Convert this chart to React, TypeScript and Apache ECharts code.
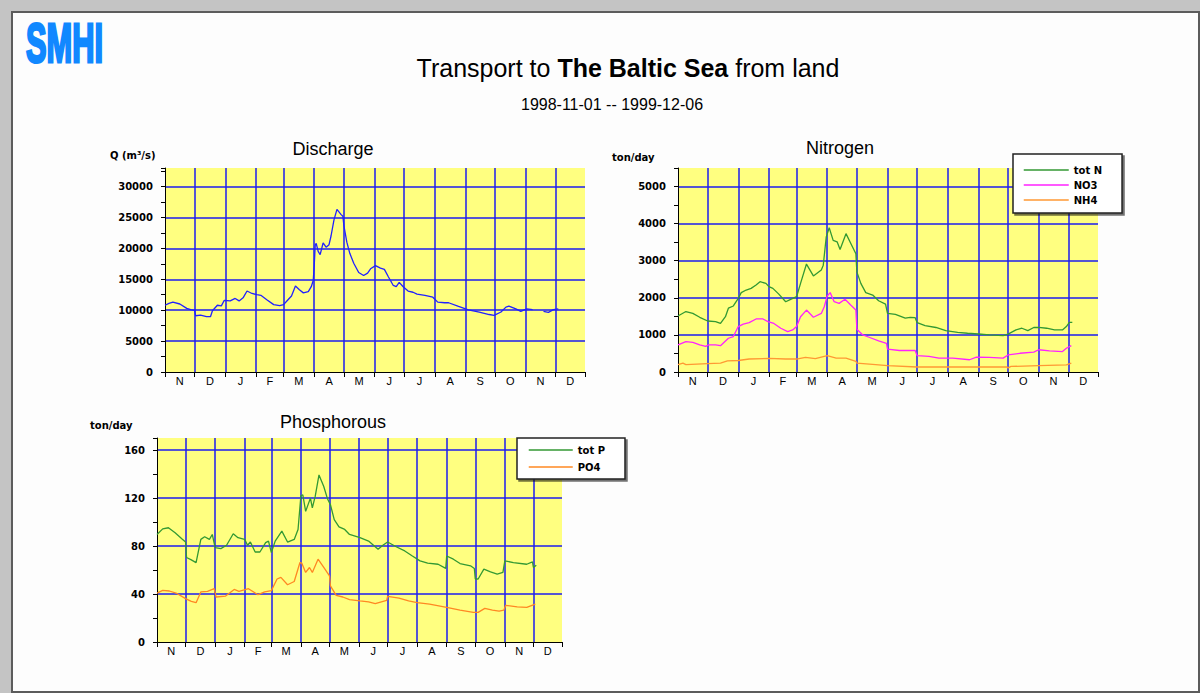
import React, { useEffect, useRef } from 'react';
import * as echarts from 'echarts';

// ---- calendar (day 0 = 1998-11-01, last = 1999-12-31) ----
const monthStarts = [0, 30, 61, 92, 120, 151, 181, 212, 242, 273, 304, 334, 365, 395, 425];
const monthLabels = ['N', 'D', 'J', 'F', 'M', 'A', 'M', 'J', 'J', 'A', 'S', 'O', 'N', 'D'];
const monthMids = monthLabels.map((_, i) => (monthStarts[i] + monthStarts[i + 1]) / 2);

// ---- Discharge Q (m3/s) ----
const qDays = [0, 4, 8, 15, 22, 26, 30, 31, 36, 42, 46, 48, 53, 57, 60, 66, 71, 75, 79, 83, 88, 93, 97, 103, 110, 116, 120, 124, 128, 132, 136, 140, 145, 148, 150, 151, 152, 153, 155, 157, 160, 163, 166, 168, 171, 174, 178, 180, 181, 184, 187, 191, 196, 201, 205, 208, 213, 218, 222, 226, 231, 234, 237, 241, 246, 251, 255, 263, 271, 276, 283, 287, 297, 307, 318, 328, 333, 340, 345, 348, 355, 360, 366, 372, 376, 383, 388, 393, 398];
const qValues = [10800, 11100, 11300, 11000, 10300, 10100, 9950, 9100, 9200, 8950, 8950, 9900, 10800, 10700, 11600, 11500, 11900, 11500, 12000, 13100, 12700, 12500, 12400, 11700, 10900, 10750, 10900, 11600, 12300, 13900, 13300, 12800, 13000, 13800, 14800, 17200, 20500, 20800, 19500, 19000, 20900, 20200, 20600, 22000, 24600, 26300, 25500, 25200, 23700, 21000, 19200, 17600, 16100, 15600, 16000, 16700, 17200, 16800, 16600, 15400, 14000, 13800, 14500, 13800, 13100, 12900, 12600, 12400, 12100, 11300, 11200, 11200, 10600, 10050, 9700, 9300, 9150, 9700, 10500, 10650, 10200, 9800, 10200, 10100, null, 9800, 9650, 10100, 10200];

// ---- Nitrogen (ton/day) ----
const totNDays = [0, 8, 15, 22, 30, 38, 43, 48, 51, 56, 61, 64, 69, 74, 79, 83, 89, 92, 96, 102, 109, 114, 120, 124, 130, 137, 145, 147, 150, 153, 157, 161, 164, 170, 175, 180, 181, 185, 190, 197, 203, 210, 212, 220, 230, 235, 240, 242, 250, 261, 271, 283, 293, 304, 315, 329, 334, 342, 348, 354, 360, 365, 373, 381, 389, 393, 396, 399];
const totN = [1510, 1630, 1580, 1475, 1375, 1360, 1310, 1490, 1720, 1780, 1985, 2140, 2210, 2255, 2345, 2435, 2390, 2300, 2255, 2100, 1895, 1960, 2030, 2390, 2910, 2590, 2750, 2880, 3640, 3890, 3550, 3510, 3300, 3730, 3460, 3190, 2700, 2390, 2140, 2075, 1920, 1830, 1580, 1555, 1450, 1475, 1465, 1330, 1250, 1200, 1115, 1070, 1045, 1025, 1000, 980, 1020, 1135, 1180, 1115, 1200, 1205, 1180, 1135, 1135, 1225, 1340, 1340];
const no3Days = [0, 8, 15, 22, 28, 31, 38, 43, 51, 56, 61, 66, 72, 79, 86, 91, 97, 104, 111, 116, 120, 124, 130, 137, 145, 148, 151, 154, 158, 163, 169, 175, 180, 181, 187, 194, 203, 211, 212, 224, 240, 242, 254, 264, 278, 295, 302, 315, 329, 334, 346, 360, 365, 376, 389, 393, 398];
const no3 = [730, 820, 800, 730, 690, 730, 730, 710, 910, 955, 1225, 1290, 1330, 1430, 1430, 1360, 1310, 1180, 1090, 1135, 1225, 1490, 1670, 1475, 1580, 1760, 2050, 2140, 1895, 1850, 1960, 1800, 1670, 1150, 1000, 930, 840, 775, 615, 580, 580, 440, 420, 375, 375, 330, 400, 395, 375, 460, 505, 535, 600, 570, 550, 640, 710];
const nh4Days = [0, 5, 8, 30, 43, 50, 61, 72, 92, 109, 120, 129, 139, 151, 160, 170, 180, 181, 200, 212, 242, 304, 333, 334, 337, 365, 393, 398];
const nh4 = [200, 240, 200, 225, 240, 300, 310, 350, 365, 350, 350, 395, 360, 440, 375, 375, 285, 240, 200, 170, 135, 135, 135, 110, 150, 170, 190, 240];

// ---- Phosphorous (ton/day) ----
const totPDays = [0, 6, 12, 19, 26, 30, 31, 36, 41, 46, 50, 55, 58, 61, 67, 73, 80, 85, 92, 95, 98, 103, 108, 114, 117, 120, 124, 131, 137, 144, 148, 151, 153, 156, 161, 163, 166, 170, 175, 179, 182, 186, 191, 197, 202, 213, 222, 232, 237, 242, 251, 260, 268, 276, 284, 295, 303, 304, 311, 318, 329, 333, 334, 337, 343, 350, 357, 363, 365, 374, 388, 394, 395, 398];
const totP = [89.6, 94.3, 95.2, 91, 86, 83.3, 70.4, 68.4, 66.2, 85.5, 87.7, 85.5, 89.6, 78.6, 77.8, 80.6, 90.2, 86.9, 85.5, 80.6, 83.3, 75, 75, 82.8, 84.1, 74.5, 84.1, 92.4, 83.3, 85.5, 93.8, 121.9, 122.7, 108.9, 119.9, 111.7, 121.3, 139.2, 129.6, 119.1, 114.4, 102, 96, 93.8, 89.6, 86.9, 84.1, 77.2, 80.6, 83.3, 79.4, 75.9, 71.7, 67.6, 65.7, 64.8, 61.3, 71.7, 69, 65.4, 63.5, 61.3, 52.5, 52.5, 60.7, 58.5, 56.6, 58, 67.6, 66.2, 64.8, 66.8, 62.1, 64];
const po4Days = [0, 6, 13, 20, 30, 36, 41, 46, 53, 60, 62, 72, 81, 86, 96, 106, 113, 120, 126, 130, 137, 144, 150, 152, 156, 160, 163, 169, 175, 181, 182, 188, 195, 202, 213, 222, 229, 241, 242, 254, 264, 273, 286, 304, 318, 332, 337, 344, 352, 359, 364, 366, 378, 388, 397];
const po4 = [40.8, 43, 42.5, 40.8, 36.1, 33.9, 32.8, 41.7, 42.2, 44.4, 37.5, 38.3, 43.8, 42.2, 44.4, 39.4, 41.7, 42.8, 52.5, 53.9, 47.7, 50.4, 66.2, 65.7, 58, 62.1, 58, 69, 62.1, 55.2, 46.8, 38.8, 37.5, 35.3, 34.2, 33.4, 32, 34.7, 38, 36.6, 34.2, 32.8, 31.5, 28.8, 26.6, 24.7, 24.7, 28, 26.6, 25.8, 26.6, 30.6, 29.2, 28.8, 31.5];

const zip = (xs: number[], ys: (number | null)[]) => xs.map((x, i) => [x, ys[i]]);

const GRID_BLUE = '#1c1cf0';
const YELLOW = '#ffff80';
const AXIS_FONT = 'Liberation Sans, Arial, sans-serif';

const makeX = (gridIndex: number) => ({
  type: 'value',
  gridIndex,
  min: 0,
  max: 425,
  axisLine: { show: true, onZero: false, lineStyle: { color: '#000', width: 1 } },
  axisTick: { show: true, customValues: monthStarts, length: 5, lineStyle: { color: '#000' } },
  axisLabel: {
    customValues: monthMids,
    formatter: (v: number) => {
      const i = monthMids.findIndex((m) => Math.abs(m - v) < 0.01);
      return i >= 0 ? monthLabels[i] : '';
    },
    margin: 3,
    fontSize: 11,
    color: '#000',
    fontFamily: AXIS_FONT,
  },
  splitLine: { show: true, showMinLine: false, showMaxLine: false, lineStyle: { color: GRID_BLUE, width: 1.5 } },
});

const makeY = (gridIndex: number, max: number, interval: number) => ({
  type: 'value',
  gridIndex,
  min: 0,
  max,
  interval,
  axisLine: { show: true, lineStyle: { color: '#000', width: 1 } },
  axisTick: { show: true, length: 4, lineStyle: { color: '#000' } },
  minorTick: { show: true, splitNumber: 2, length: 4, lineStyle: { color: '#000' } },
  axisLabel: {
    showMaxLabel: false,
    margin: 12,
    fontSize: 10,
    fontWeight: 'bold',
    color: '#000',
    fontFamily: 'DejaVu Sans, sans-serif',
    formatter: (v: number) => String(v),
  },
  splitLine: { show: true, showMinLine: false, showMaxLine: false, lineStyle: { color: GRID_BLUE, width: 1.5 } },
});

const lineSeries = (name: string, xi: number, data: any[], color: string) => ({
  name,
  type: 'line',
  xAxisIndex: xi,
  yAxisIndex: xi,
  data,
  symbol: 'none',
  showSymbol: false,
  connectNulls: false,
  lineStyle: { color, width: 1.3 },
  itemStyle: { color },
  z: 3,
});

const legendBase = {
  orient: 'vertical',
  backgroundColor: '#ffffff',
  borderColor: '#222',
  borderWidth: 1.5,
  shadowColor: 'rgba(0,0,0,0.55)',
  shadowOffsetX: 2,
  shadowOffsetY: 2,
  shadowBlur: 0,
  itemHeight: 10,
  itemGap: 5,
  itemStyle: { opacity: 0 },
  lineStyle: { width: 1.5 },
  textStyle: { fontSize: 10, fontWeight: 'bold', color: '#000', fontFamily: 'DejaVu Sans, sans-serif' },
  selectedMode: false,
};

export default function App() {
  const ref = useRef<HTMLDivElement>(null);

  useEffect(() => {
    if (!ref.current) return;
    const chart = echarts.init(ref.current, undefined, { renderer: 'svg' });
    const smallText = { font: 'bold 10px DejaVu Sans, sans-serif', fill: '#000' };
    chart.setOption({
      animation: false,
      grid: [
        { left: 165, top: 168, width: 420, height: 204, show: true, backgroundColor: YELLOW, borderWidth: 0 },
        { left: 678, top: 168, width: 420, height: 204, show: true, backgroundColor: YELLOW, borderWidth: 0 },
        { left: 157, top: 438, width: 405, height: 204, show: true, backgroundColor: YELLOW, borderWidth: 0 },
      ],
      xAxis: [makeX(0), makeX(1), makeX(2)],
      yAxis: [makeY(0, 33000, 5000), makeY(1, 5500, 1000), makeY(2, 170, 40)],
      legend: [
        { ...legendBase, left: 1013, top: 154, itemWidth: 45, padding: [11, 20, 8, 10], data: ['tot N', 'NO3', 'NH4'] },
        { ...legendBase, left: 517, top: 438, itemWidth: 44, itemGap: 7, padding: [7, 20, 7, 11], data: ['tot P', 'PO4'] },
      ],
      series: [
        lineSeries('Q', 0, zip(qDays, qValues), '#2020ff'),
        lineSeries('tot N', 1, zip(totNDays, totN), '#339933'),
        lineSeries('NO3', 1, zip(no3Days, no3), '#ff22ff'),
        lineSeries('NH4', 1, zip(nh4Days, nh4), '#ff9933'),
        lineSeries('tot P', 2, zip(totPDays, totP), '#339933'),
        lineSeries('PO4', 2, zip(po4Days, po4), '#ff8822'),
      ],
      graphic: [
        {
          type: 'text', x: 26, y: 43, scaleX: 0.55, z: 10,
          style: {
            text: 'SMHI', x: 0, y: 0, font: 'bold 56px Liberation Sans, Arial, sans-serif',
            fill: '#1188ff', stroke: '#1188ff', lineWidth: 3, verticalAlign: 'middle',
          },
        },
        {
          type: 'text', x: 628, y: 68, z: 10,
          style: {
            text: '{r|Transport to }{b|The Baltic Sea}{r| from land}',
            align: 'center', verticalAlign: 'middle',
            rich: {
              r: { fontSize: 25, fontFamily: 'Liberation Sans, Arial, sans-serif', fill: '#000' },
              b: { fontSize: 25, fontWeight: 'bold', fontFamily: 'Liberation Sans, Arial, sans-serif', fill: '#000' },
            },
          },
        },
        {
          type: 'text', x: 612, y: 104, z: 10,
          style: { text: '1998-11-01 -- 1999-12-06', align: 'center', verticalAlign: 'middle', font: '16px Liberation Sans, Arial, sans-serif', fill: '#000' },
        },
        { type: 'text', x: 333, y: 149, z: 10, style: { text: 'Discharge', align: 'center', verticalAlign: 'middle', font: '18px Liberation Sans, Arial, sans-serif', fill: '#000' } },
        { type: 'text', x: 840, y: 148, z: 10, style: { text: 'Nitrogen', align: 'center', verticalAlign: 'middle', font: '18px Liberation Sans, Arial, sans-serif', fill: '#000' } },
        { type: 'text', x: 333, y: 422, z: 10, style: { text: 'Phosphorous', align: 'center', verticalAlign: 'middle', font: '18px Liberation Sans, Arial, sans-serif', fill: '#000' } },
        { type: 'text', x: 110, y: 155, z: 10, style: { ...smallText, text: 'Q (m³/s)', verticalAlign: 'middle' } },
        { type: 'text', x: 612, y: 157, z: 10, style: { ...smallText, text: 'ton/day', verticalAlign: 'middle' } },
        { type: 'text', x: 90, y: 425, z: 10, style: { ...smallText, text: 'ton/day', verticalAlign: 'middle' } },
      ],
    });
    return () => chart.dispose();
  }, []);

  return (
    <div style={{ position: 'fixed', left: 0, top: 0, width: 1200, height: 693, background: '#c4c4c4' }}>
      <div
        style={{
          position: 'absolute', left: 11, top: 11, width: 1185, height: 678,
          background: '#fdfdfd', border: '2px solid #5c5c5c',
        }}
      />
      <div ref={ref} style={{ position: 'absolute', left: 0, top: 0, width: 1200, height: 693 }} />
    </div>
  );
}
